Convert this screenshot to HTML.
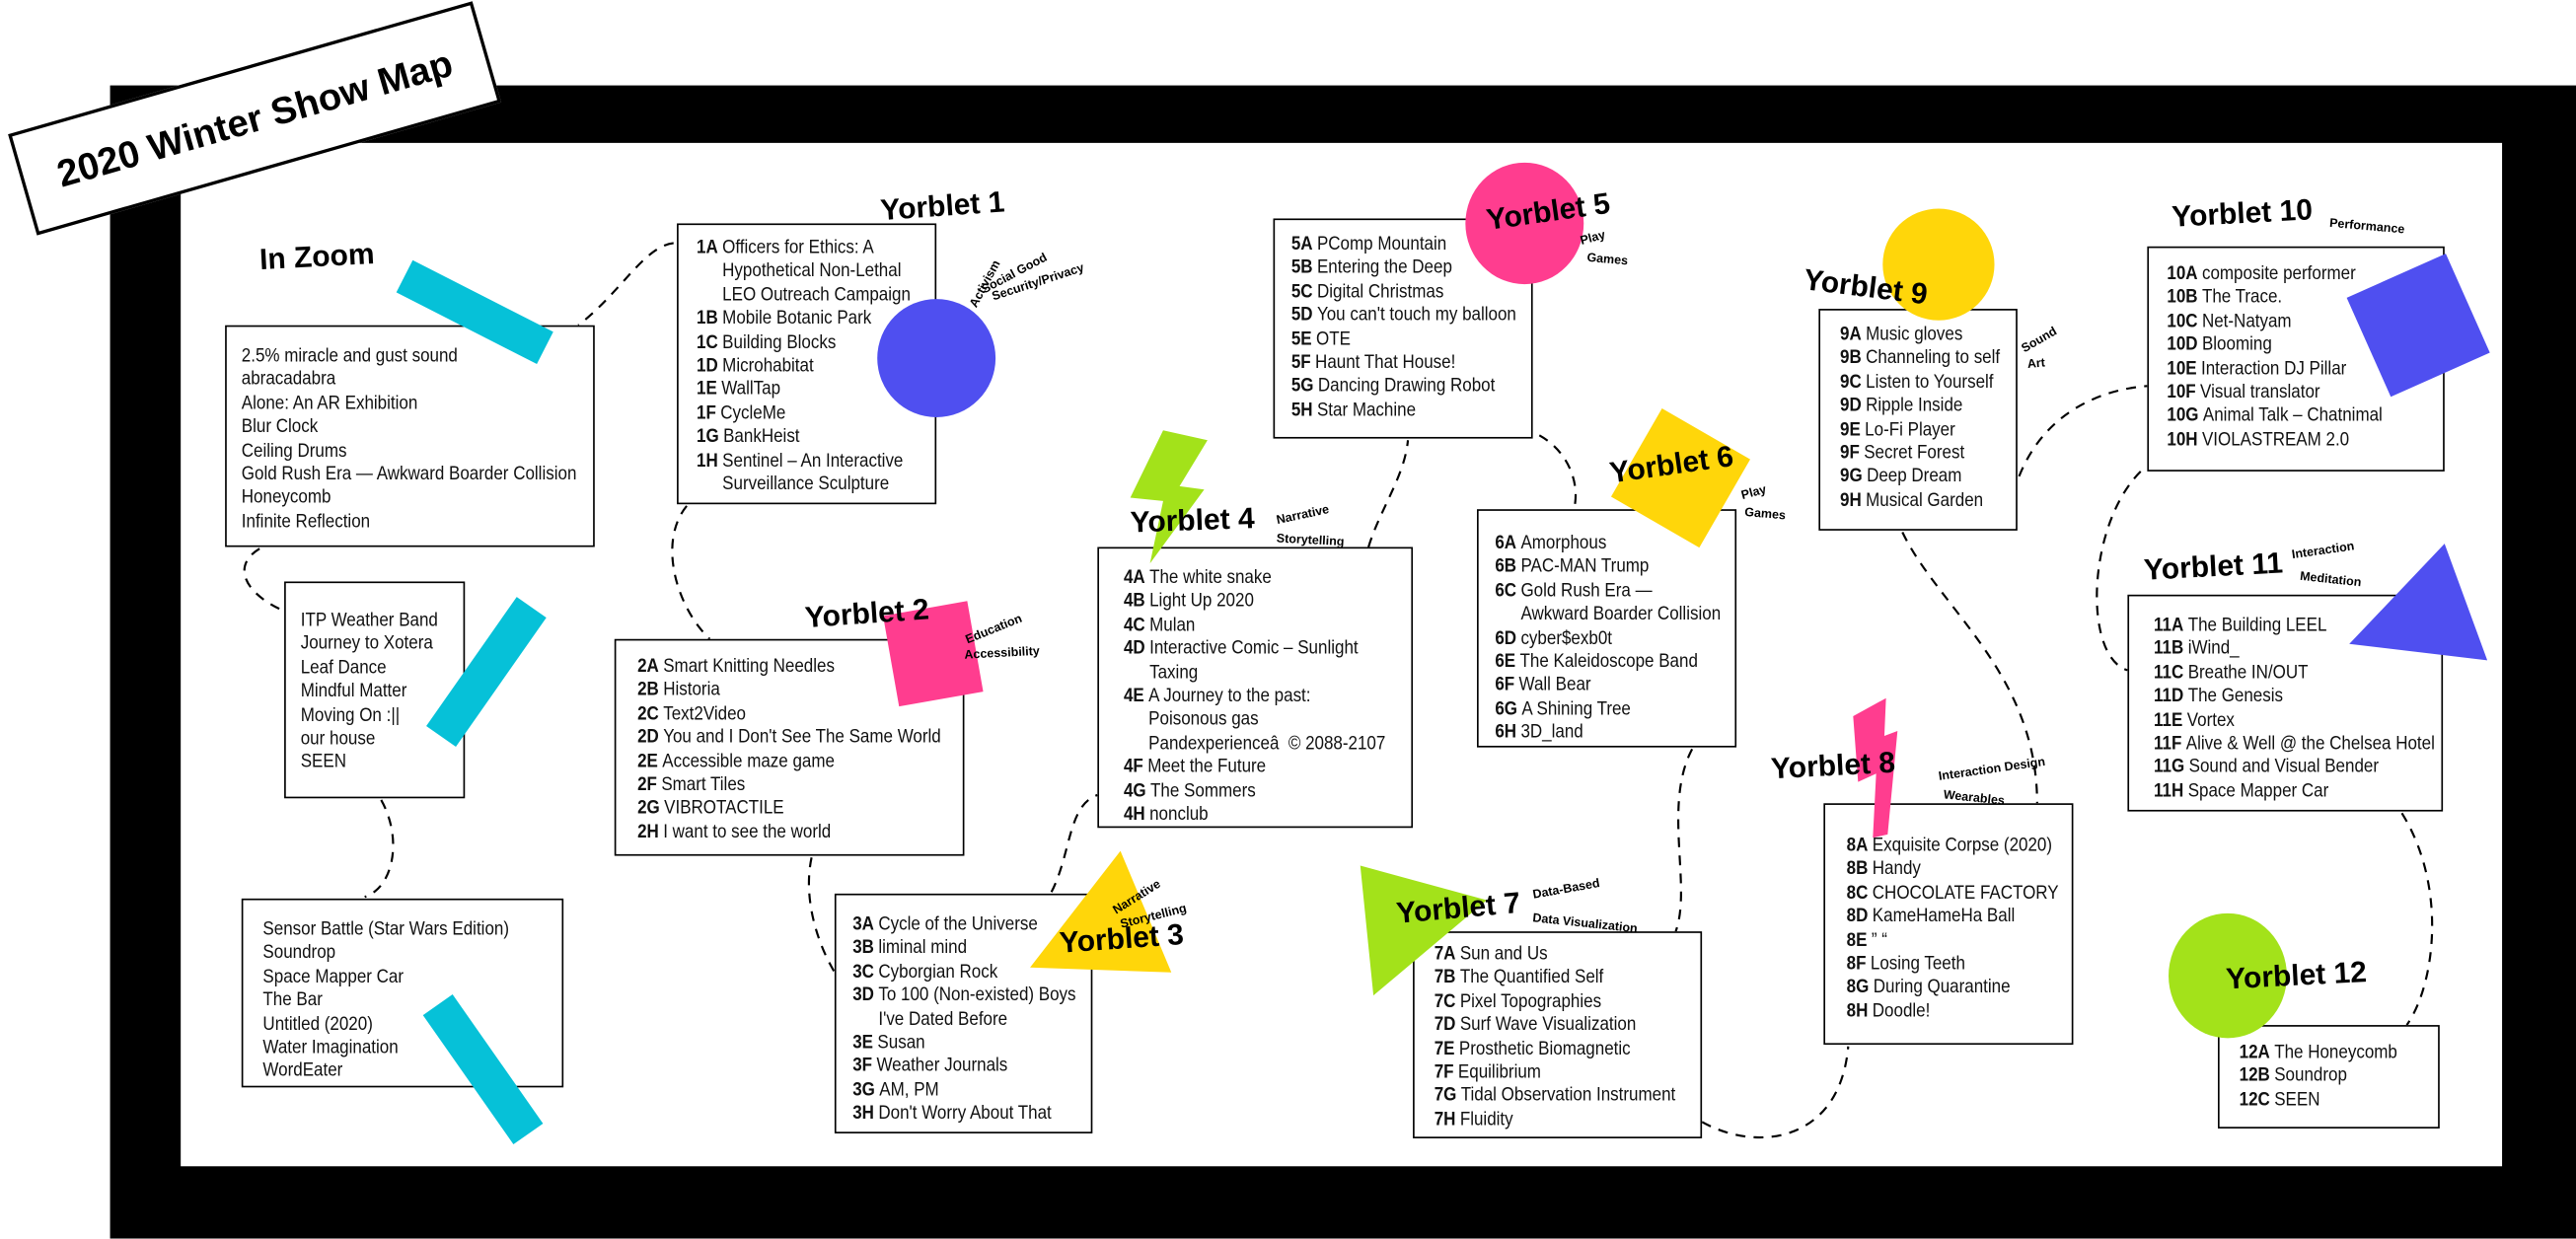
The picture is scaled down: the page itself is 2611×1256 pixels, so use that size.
<!DOCTYPE html>
<html><head><meta charset="utf-8">
<style>
html,body{margin:0;padding:0;background:#fff;overflow:hidden}
#stage{position:absolute;left:0;top:0;width:1568px;height:754px;transform:scale(1.66518);transform-origin:0 0;font-family:"Liberation Sans Narrow","Liberation Sans",sans-serif}
.abs{position:absolute}
.box{position:absolute;border:1px solid #000;background:#fff;box-sizing:border-box}
.list{position:absolute;font-size:11.6px;line-height:14.4px;color:#111;white-space:nowrap;transform:scaleX(0.88);transform-origin:0 0}
.it{display:flex;white-space:nowrap}
.it b{margin-right:3px}
.lbl{position:absolute;font-family:"Liberation Sans",sans-serif;font-weight:bold;font-size:18px;white-space:nowrap;transform-origin:0 50%;color:#000}
.tag{position:absolute;font-family:"Liberation Sans",sans-serif;font-weight:bold;font-size:7.5px;white-space:nowrap;transform-origin:0 50%}
</style></head>
<body>
<div id="stage">
<div class="abs" style="left:67px;top:52px;width:1501px;height:702px;background:#000"></div>
<div class="abs" style="left:110px;top:87px;width:1413px;height:623px;background:#fff"></div>

<svg class="abs" style="left:0;top:0" width="1568" height="754" fill="none" stroke="#000" stroke-width="1.3" stroke-dasharray="6,5">
<path d="M410,148 C392,150 378,178 352,198"/>
<path d="M158,334 C140,345 150,362 173,372"/>
<path d="M232,487 C245,510 240,540 222,546"/>
<path d="M418,308 C400,330 412,370 432,389"/>
<path d="M494,522 C488,550 500,580 510,595"/>
<path d="M640,543 C652,520 650,490 668,484"/>
<path d="M833,333 C840,310 855,290 857,268"/>
<path d="M937,265 C955,275 962,295 958,310"/>
<path d="M1030,456 C1012,490 1030,540 1020,567"/>
<path d="M1036,683 C1070,702 1120,695 1125,637"/>
<path d="M1158,324 C1180,370 1240,410 1240,489"/>
<path d="M1229,290 C1245,250 1280,237 1307,235"/>
<path d="M1303,287 C1270,320 1268,400 1295,408"/>
<path d="M1462,495 C1490,540 1482,600 1465,624"/>
</svg>

<div class="abs" style="left:8px;top:40px;width:294px;height:64px;border:2px solid #000;background:#fff;box-sizing:border-box;transform:rotate(-16deg);display:flex;align-items:center;justify-content:center;font-family:'Liberation Sans',sans-serif;font-weight:bold;font-size:23px">2020 Winter Show Map</div>

<div class="lbl" style="left:158px;top:148px;transform:rotate(-3deg)">In Zoom</div>

<div class="box" style="left:137px;top:198px;width:225px;height:135px">
<div class="list" style="left:9px;top:11px">
<div>2.5% miracle and gust sound</div><div>abracadabra</div><div>Alone: An AR Exhibition</div><div>Blur Clock</div><div>Ceiling Drums</div><div>Gold Rush Era — Awkward Boarder Collision</div><div>Honeycomb</div><div>Infinite Reflection</div></div></div>
<div class="box" style="left:173px;top:354px;width:110px;height:132px">
<div class="list" style="left:9px;top:16px">
<div>ITP Weather Band</div><div>Journey to Xotera</div><div>Leaf Dance</div><div>Mindful Matter</div><div>Moving On :||</div><div>our house</div><div>SEEN</div></div></div>
<div class="box" style="left:147px;top:547px;width:196px;height:115px">
<div class="list" style="left:12px;top:11px">
<div>Sensor Battle (Star Wars Edition)</div><div>Soundrop</div><div>Space Mapper Car</div><div>The Bar</div><div>Untitled (2020)</div><div>Water Imagination</div><div>WordEater</div></div></div>

<div class="box" style="left:412px;top:136px;width:158px;height:171px">
<div class="list" style="left:11px;top:7px">
<div class="it"><b>1A</b><span>Officers for Ethics: A<br>Hypothetical Non-Lethal<br>LEO Outreach Campaign</span></div>
<div class="it"><b>1B</b><span>Mobile Botanic Park</span></div>
<div class="it"><b>1C</b><span>Building Blocks</span></div>
<div class="it"><b>1D</b><span>Microhabitat</span></div>
<div class="it"><b>1E</b><span>WallTap</span></div>
<div class="it"><b>1F</b><span>CycleMe</span></div>
<div class="it"><b>1G</b><span>BankHeist</span></div>
<div class="it"><b>1H</b><span>Sentinel – An Interactive<br>Surveillance Sculpture</span></div></div></div>

<div class="box" style="left:374px;top:389px;width:213px;height:132px">
<div class="list" style="left:13px;top:9px">
<div class="it"><b>2A</b><span>Smart Knitting Needles</span></div>
<div class="it"><b>2B</b><span>Historia</span></div>
<div class="it"><b>2C</b><span>Text2Video</span></div>
<div class="it"><b>2D</b><span>You and I Don't See The Same World</span></div>
<div class="it"><b>2E</b><span>Accessible maze game</span></div>
<div class="it"><b>2F</b><span>Smart Tiles</span></div>
<div class="it"><b>2G</b><span>VIBROTACTILE</span></div>
<div class="it"><b>2H</b><span>I want to see the world</span></div></div></div>

<div class="box" style="left:508px;top:544px;width:157px;height:146px">
<div class="list" style="left:10px;top:11px">
<div class="it"><b>3A</b><span>Cycle of the Universe</span></div>
<div class="it"><b>3B</b><span>liminal mind</span></div>
<div class="it"><b>3C</b><span>Cyborgian Rock</span></div>
<div class="it"><b>3D</b><span>To 100 (Non-existed) Boys<br>I've Dated Before</span></div>
<div class="it"><b>3E</b><span>Susan</span></div>
<div class="it"><b>3F</b><span>Weather Journals</span></div>
<div class="it"><b>3G</b><span>AM, PM</span></div>
<div class="it"><b>3H</b><span>Don't Worry About That</span></div></div></div>

<div class="box" style="left:668px;top:333px;width:192px;height:171px">
<div class="list" style="left:15px;top:11px">
<div class="it"><b>4A</b><span>The white snake</span></div>
<div class="it"><b>4B</b><span>Light Up 2020</span></div>
<div class="it"><b>4C</b><span>Mulan</span></div>
<div class="it"><b>4D</b><span>Interactive Comic – Sunlight<br>Taxing</span></div>
<div class="it"><b>4E</b><span>A Journey to the past:<br>Poisonous gas<br>Pandexperienceâ&nbsp; © 2088-2107</span></div>
<div class="it"><b>4F</b><span>Meet the Future</span></div>
<div class="it"><b>4G</b><span>The Sommers</span></div>
<div class="it"><b>4H</b><span>nonclub</span></div></div></div>

<div class="box" style="left:775px;top:133px;width:158px;height:134px">
<div class="list" style="left:10px;top:8px">
<div class="it"><b>5A</b><span>PComp Mountain</span></div>
<div class="it"><b>5B</b><span>Entering the Deep</span></div>
<div class="it"><b>5C</b><span>Digital Christmas</span></div>
<div class="it"><b>5D</b><span>You can't touch my balloon</span></div>
<div class="it"><b>5E</b><span>OTE</span></div>
<div class="it"><b>5F</b><span>Haunt That House!</span></div>
<div class="it"><b>5G</b><span>Dancing Drawing Robot</span></div>
<div class="it"><b>5H</b><span>Star Machine</span></div></div></div>

<div class="box" style="left:899px;top:310px;width:158px;height:145px">
<div class="list" style="left:10px;top:13px">
<div class="it"><b>6A</b><span>Amorphous</span></div>
<div class="it"><b>6B</b><span>PAC-MAN Trump</span></div>
<div class="it"><b>6C</b><span>Gold Rush Era —<br>Awkward Boarder Collision</span></div>
<div class="it"><b>6D</b><span>cyber$exb0t</span></div>
<div class="it"><b>6E</b><span>The Kaleidoscope Band</span></div>
<div class="it"><b>6F</b><span>Wall Bear</span></div>
<div class="it"><b>6G</b><span>A Shining Tree</span></div>
<div class="it"><b>6H</b><span>3D_land</span></div></div></div>

<div class="box" style="left:860px;top:567px;width:176px;height:126px">
<div class="list" style="left:12px;top:6px">
<div class="it"><b>7A</b><span>Sun and Us</span></div>
<div class="it"><b>7B</b><span>The Quantified Self</span></div>
<div class="it"><b>7C</b><span>Pixel Topographies</span></div>
<div class="it"><b>7D</b><span>Surf Wave Visualization</span></div>
<div class="it"><b>7E</b><span>Prosthetic Biomagnetic</span></div>
<div class="it"><b>7F</b><span>Equilibrium</span></div>
<div class="it"><b>7G</b><span>Tidal Observation Instrument</span></div>
<div class="it"><b>7H</b><span>Fluidity</span></div></div></div>

<div class="box" style="left:1110px;top:489px;width:152px;height:147px">
<div class="list" style="left:13px;top:18px">
<div class="it"><b>8A</b><span>Exquisite Corpse (2020)</span></div>
<div class="it"><b>8B</b><span>Handy</span></div>
<div class="it"><b>8C</b><span>CHOCOLATE FACTORY</span></div>
<div class="it"><b>8D</b><span>KameHameHa Ball</span></div>
<div class="it"><b>8E</b><span>” “</span></div>
<div class="it"><b>8F</b><span>Losing Teeth</span></div>
<div class="it"><b>8G</b><span>During Quarantine</span></div>
<div class="it"><b>8H</b><span>Doodle!</span></div></div></div>

<div class="box" style="left:1107px;top:188px;width:121px;height:135px">
<div class="list" style="left:12px;top:8px">
<div class="it"><b>9A</b><span>Music gloves</span></div>
<div class="it"><b>9B</b><span>Channeling to self</span></div>
<div class="it"><b>9C</b><span>Listen to Yourself</span></div>
<div class="it"><b>9D</b><span>Ripple Inside</span></div>
<div class="it"><b>9E</b><span>Lo-Fi Player</span></div>
<div class="it"><b>9F</b><span>Secret Forest</span></div>
<div class="it"><b>9G</b><span>Deep Dream</span></div>
<div class="it"><b>9H</b><span>Musical Garden</span></div></div></div>

<div class="box" style="left:1307px;top:150px;width:181px;height:137px">
<div class="list" style="left:11px;top:9px">
<div class="it"><b>10A</b><span>composite performer</span></div>
<div class="it"><b>10B</b><span>The Trace.</span></div>
<div class="it"><b>10C</b><span>Net-Natyam</span></div>
<div class="it"><b>10D</b><span>Blooming</span></div>
<div class="it"><b>10E</b><span>Interaction DJ Pillar</span></div>
<div class="it"><b>10F</b><span>Visual translator</span></div>
<div class="it"><b>10G</b><span>Animal Talk – Chatnimal</span></div>
<div class="it"><b>10H</b><span>VIOLASTREAM 2.0</span></div></div></div>

<div class="box" style="left:1295px;top:362px;width:192px;height:132px">
<div class="list" style="left:15px;top:11px">
<div class="it"><b>11A</b><span>The Building LEEL</span></div>
<div class="it"><b>11B</b><span>iWind_</span></div>
<div class="it"><b>11C</b><span>Breathe IN/OUT</span></div>
<div class="it"><b>11D</b><span>The Genesis</span></div>
<div class="it"><b>11E</b><span>Vortex</span></div>
<div class="it"><b>11F</b><span>Alive &amp; Well @ the Chelsea Hotel</span></div>
<div class="it"><b>11G</b><span>Sound and Visual Bender</span></div>
<div class="it"><b>11H</b><span>Space Mapper Car</span></div></div></div>

<div class="box" style="left:1350px;top:624px;width:135px;height:63px">
<div class="list" style="left:12px;top:9px">
<div class="it"><b>12A</b><span>The Honeycomb</span></div>
<div class="it"><b>12B</b><span>Soundrop</span></div>
<div class="it"><b>12C</b><span>SEEN</span></div></div></div>

<svg class="abs" style="left:0;top:0" width="1568" height="754">
<rect x="241" y="179" width="96" height="22" fill="#06c1d8" transform="rotate(27 289 190)"/>
<rect x="248" y="398" width="96" height="22" fill="#06c1d8" transform="rotate(-55 296 409)"/>
<rect x="246" y="640" width="96" height="22" fill="#06c1d8" transform="rotate(55 294 651)"/>
<circle cx="570" cy="218" r="36" fill="#4f4ff0"/>
<rect x="542" y="370" width="52" height="56" fill="#ff3d8f" transform="rotate(-10 568 398)"/>
<polygon points="627,589 682,518 713,592" fill="#ffd60a"/>
<polygon points="708,262 735,268 718,296 733,298 700,343 708,305 688,303" fill="#a3e21a"/>
<ellipse cx="928" cy="136" rx="36" ry="37" fill="#ff3d8f"/>
<rect x="992" y="260" width="62" height="62" fill="#ffd60a" transform="rotate(30 1023 291)"/>
<polygon points="828,527 905,548 836,606" fill="#a3e21a"/>
<polygon points="1128,436 1148,425 1147,448 1155,445 1149,508 1140,510 1142,471 1131,476" fill="#ff3d8f"/>
<circle cx="1180" cy="161" r="34" fill="#ffd60a"/>
<rect x="1439" y="165" width="66" height="66" fill="#4f4ff0" transform="rotate(-24 1472 198)"/>
<polygon points="1430,392 1488,331 1514,402" fill="#4f4ff0"/>
<ellipse cx="1356" cy="594" rx="36" ry="38" fill="#a3e21a"/>
</svg>

<div class="lbl" style="left:536px;top:118px;transform:rotate(-4deg)">Yorblet 1</div>
<div class="tag" style="left:592px;top:182px;transform:rotate(-62deg)">Activism</div>
<div class="tag" style="left:598px;top:172px;transform:rotate(-28deg)">Social Good</div>
<div class="tag" style="left:604px;top:176px;transform:rotate(-18deg)">Security/Privacy</div>

<div class="lbl" style="left:490px;top:366px;transform:rotate(-4deg)">Yorblet 2</div>
<div class="tag" style="left:588px;top:385px;transform:rotate(-22deg)">Education</div>
<div class="tag" style="left:587px;top:394px;transform:rotate(-3deg)">Accessibility</div>

<div class="lbl" style="left:645px;top:564px;transform:rotate(-4deg)">Yorblet 3</div>
<div class="tag" style="left:678px;top:550px;transform:rotate(-32deg)">Narrative</div>
<div class="tag" style="left:682px;top:558px;transform:rotate(-14deg)">Storytelling</div>

<div class="lbl" style="left:688px;top:308px;transform:rotate(-2deg)">Yorblet 4</div>
<div class="tag" style="left:777px;top:312px;transform:rotate(-12deg)">Narrative</div>
<div class="tag" style="left:777px;top:323px;transform:rotate(3deg)">Storytelling</div>

<div class="lbl" style="left:905px;top:124px;transform:rotate(-8deg)">Yorblet 5</div>
<div class="tag" style="left:962px;top:142px;transform:rotate(-15deg)">Play</div>
<div class="tag" style="left:966px;top:152px;transform:rotate(5deg)">Games</div>

<div class="lbl" style="left:980px;top:278px;transform:rotate(-8deg)">Yorblet 6</div>
<div class="tag" style="left:1060px;top:297px;transform:rotate(-15deg)">Play</div>
<div class="tag" style="left:1062px;top:307px;transform:rotate(5deg)">Games</div>

<div class="lbl" style="left:850px;top:546px;transform:rotate(-5deg)">Yorblet 7</div>
<div class="tag" style="left:933px;top:540px;transform:rotate(-10deg)">Data-Based</div>
<div class="tag" style="left:933px;top:554px;transform:rotate(6deg)">Data Visualization</div>

<div class="lbl" style="left:1078px;top:458px;transform:rotate(-3deg)">Yorblet 8</div>
<div class="tag" style="left:1180px;top:468px;transform:rotate(-8deg)">Interaction Design</div>
<div class="tag" style="left:1183px;top:479px;transform:rotate(6deg)">Wearables</div>

<div class="lbl" style="left:1098px;top:160px;transform:rotate(7deg)">Yorblet 9</div>
<div class="tag" style="left:1231px;top:208px;transform:rotate(-30deg)">Sound</div>
<div class="tag" style="left:1234px;top:217px;transform:rotate(-5deg)">Art</div>

<div class="lbl" style="left:1322px;top:122px;transform:rotate(-3deg)">Yorblet 10</div>
<div class="tag" style="left:1418px;top:131px;transform:rotate(5deg)">Performance</div>

<div class="lbl" style="left:1305px;top:337px;transform:rotate(-3deg)">Yorblet 11</div>
<div class="tag" style="left:1395px;top:333px;transform:rotate(-8deg)">Interaction</div>
<div class="tag" style="left:1400px;top:346px;transform:rotate(6deg)">Meditation</div>

<div class="lbl" style="left:1355px;top:586px;transform:rotate(-3deg)">Yorblet 12</div>
</div>
</body></html>
